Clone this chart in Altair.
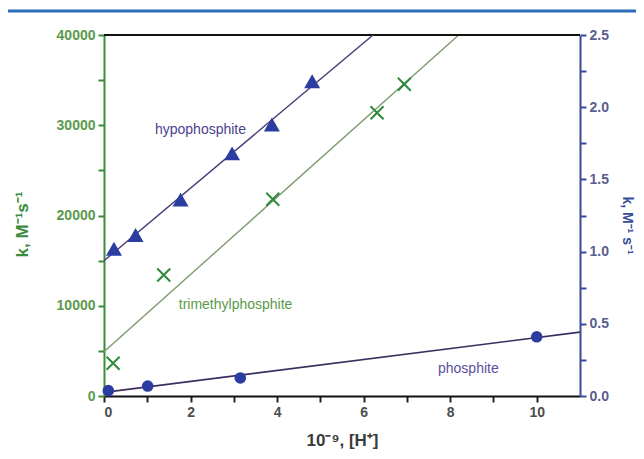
import altair as alt
import pandas as pd

# ---------------- data ----------------
# hypophosphite (right axis, k / M^-1 s^-1)
hypo_x = [0.23, 0.73, 1.77, 2.96, 3.88, 4.81]
hypo_k = [1.02, 1.115, 1.36, 1.68, 1.88, 2.18]
# trimethylphosphite (left axis, k / M^-1 s^-1)
tmp_x = [0.21, 1.38, 3.90, 6.31, 6.94]
tmp_k = [3620, 13410, 21800, 31390, 34540]
# phosphite (right axis)
phos_x = [0.10, 1.01, 3.15, 10.0]
phos_k = [0.037, 0.069, 0.125, 0.41]

# annotation labels (anchored in left-axis data units)
labels = ["hypophosphite", "trimethylphosphite", "phosphite"]
label_x = [2.23, 3.04, 8.42]
label_k = [29470, 10080, 2990]

x_ticks = [0, 1, 2, 3, 4, 5, 6, 7, 8, 9, 10]
left_ticks = [0, 5000, 10000, 15000, 20000, 25000, 30000, 35000, 40000]
right_ticks = [0, 0.25, 0.5, 0.75, 1.0, 1.25, 1.5, 1.75, 2.0, 2.25, 2.5]

# ---------------- styling ----------------
W, H = 476, 361
FONT = "Liberation Sans"
GREEN_AX = "#3b8c3b"
GREEN_LBL = "#5b9a4b"
BLUE_AX = "#3a4a9c"
BLUE_LBL = "#5a5e8e"
MARK_BLUE = "#2b3da0"
MARK_GREEN = "#2f8a3a"

hypo_df = pd.DataFrame({"x": hypo_x, "k": hypo_k})
tmp_df = pd.DataFrame({"x": tmp_x, "k": tmp_k})
phos_df = pd.DataFrame({"x": phos_x, "k": phos_k})
lab_df = pd.DataFrame({"x": label_x, "k": label_k, "label": labels})
one = pd.DataFrame({"d": [0]})

x_axis = alt.Axis(
    values=x_ticks,
    labelExpr="datum.value % 2 == 0 ? datum.label : ''",
    grid=False, domainColor="#111111", domainWidth=2,
    tickColor="#222222", tickWidth=2, tickSize=6,
    labelFont=FONT, labelFontSize=14, labelFontWeight="bold",
    labelColor="#4d4d4d", labelPadding=3,
    title="10⁻⁹, [H⁺]", titleFont=FONT, titleFontSize=17,
    titleFontWeight="bold", titleColor="#3a3a3a", titlePadding=13,
)
xs = alt.Scale(domain=[0, 11], nice=False, zero=False)
X = alt.X("x:Q", scale=xs, axis=x_axis)

left_axis = alt.Axis(
    orient="left", values=left_ticks, format="d",
    labelExpr="datum.value % 10000 == 0 ? datum.label : ''",
    grid=False, domainColor=GREEN_AX, domainWidth=2,
    tickColor=GREEN_AX, tickWidth=2, tickSize=6,
    labelFont=FONT, labelFontSize=14, labelFontWeight="bold",
    labelColor=GREEN_LBL, labelPadding=3,
    title="k, M⁻¹s⁻¹", titleFont=FONT, titleFontSize=17,
    titleFontWeight="bold", titleColor=GREEN_AX,
    titleAngle=270, titleAlign="center", titleBaseline="bottom",
    titleX=-73, titleY=189,
)
YL = alt.Y("k:Q", scale=alt.Scale(domain=[0, 40000], nice=False), axis=left_axis)

right_axis = alt.Axis(
    orient="right", values=right_ticks, format=".1f",
    labelExpr="abs(datum.value * 2 - round(datum.value * 2)) < 0.001 ? datum.label : ''",
    grid=False, domainColor=BLUE_AX, domainWidth=2,
    tickColor=BLUE_AX, tickWidth=2, tickSize=6,
    labelFont=FONT, labelFontSize=14, labelFontWeight="bold",
    labelColor=BLUE_LBL, labelPadding=3,
    title="k, M⁻¹ s⁻¹", titleFont=FONT, titleFontSize=14,
    titleFontWeight="bold", titleColor=BLUE_AX,
    titleAngle=90, titleAlign="center", titleBaseline="bottom",
    titleX=39, titleY=190,
)
YR = alt.Y("k:Q", scale=alt.Scale(domain=[0, 2.5], nice=False), axis=right_axis)

# ---------------- left-axis layer ----------------
tmp_line = alt.Chart(tmp_df).transform_regression(
    "x", "k", extent=[0, 11]
).mark_line(color="#7f9c72", strokeWidth=1.4, clip=True).encode(x=X, y=YL)

tmp_pts = alt.Chart(tmp_df).mark_point(
    shape="M-1,-1L1,1M-1,1L1,-1", size=169, filled=False,
    color=MARK_GREEN, strokeWidth=2, opacity=1,
).encode(x=X, y=YL)

texts = alt.Chart(lab_df).mark_text(
    font=FONT, fontSize=14, align="center", baseline="middle",
).encode(
    x=X, y=YL, text="label:N",
    color=alt.Color("label:N", legend=None,
                    scale=alt.Scale(domain=labels,
                                    range=["#4a3f8f", "#5a9a4a", "#5a4f9f"])),
)

top_border = alt.Chart(one).mark_rule(color="#111111", strokeWidth=2).encode(
    x=alt.value(0), x2=alt.value(W), y=alt.value(0)
)
header_rule = alt.Chart(one).mark_rule(color="#2a6cb6", strokeWidth=3).encode(
    x=alt.value(-96), x2=alt.value(W + 60), y=alt.value(-24)
)

left_layer = alt.layer(tmp_line, tmp_pts, texts, top_border, header_rule)

# ---------------- right-axis layer ----------------
hypo_line = alt.Chart(hypo_df).transform_regression(
    "x", "k", extent=[0, 11]
).mark_line(color="#4b3c7c", strokeWidth=1.4, clip=True).encode(x=X, y=YR)

hypo_pts = alt.Chart(hypo_df).mark_point(
    shape="triangle-up", size=256, filled=True, color=MARK_BLUE, opacity=1
).encode(x=X, y=YR)

phos_line = alt.Chart(phos_df).transform_regression(
    "x", "k", extent=[0, 11]
).mark_line(color="#3b2d5e", strokeWidth=1.6, clip=True).encode(x=X, y=YR)

phos_pts = alt.Chart(phos_df).mark_point(
    shape="circle", size=135, filled=True, color=MARK_BLUE, opacity=1
).encode(x=X, y=YR)

right_layer = alt.layer(hypo_line, phos_line, hypo_pts, phos_pts)

chart = alt.layer(left_layer, right_layer).resolve_scale(
    y="independent"
).properties(
    width=W, height=H,
    autosize=alt.AutoSizeParams(type="none"),
    padding={"left": 96, "top": 27, "right": 56, "bottom": 55},
).configure_view(stroke=None)

chart.save("out.html", embed_options={"renderer": "svg", "actions": False})
